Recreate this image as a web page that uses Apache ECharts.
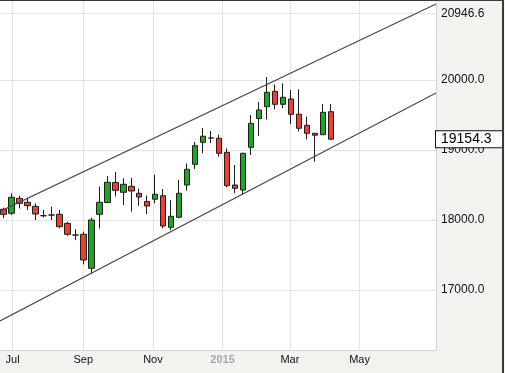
<!DOCTYPE html>
<html>
<head>
<meta charset="utf-8">
<script src="https://cdn.jsdelivr.net/npm/echarts@6/dist/echarts.min.js"></script>
<style>
  html, body { margin: 0; padding: 0; background: #f7f6f3; }
  #chart { width: 502px; height: 372px; border-top: 1px solid #3a3a3a; border-right: 2px solid #3a3a3a; }
</style>
</head>
<body>
<div id="chart"></div>
<script>
// Weekly candles (week starting dates)
const candleDates = [
  '2014-06-23','2014-06-30','2014-07-07','2014-07-14','2014-07-21','2014-07-28','2014-08-04','2014-08-11',
  '2014-08-18','2014-08-25','2014-09-01','2014-09-08','2014-09-15','2014-09-22','2014-09-29','2014-10-06',
  '2014-10-13','2014-10-20','2014-10-27','2014-11-03','2014-11-10','2014-11-17','2014-11-24','2014-12-01',
  '2014-12-08','2014-12-15','2014-12-22','2014-12-29','2015-01-05','2015-01-12','2015-01-19','2015-01-26',
  '2015-02-02','2015-02-09','2015-02-16','2015-02-23','2015-03-02','2015-03-09','2015-03-16','2015-03-23',
  '2015-03-30','2015-04-06'
];
const opens = [
  18152.9,18095.7,18310.0,18252.9,18195.7,18061.4,18071.4,18081.4,
  17952.9,17785.7,17795.7,17310.0,18081.4,18250.0,18535.7,18395.7,
  18481.4,18381.4,18264.3,18297.1,18347.1,17895.7,18038.6,18500.0,
  18795.7,19110.0,19171.4,19167.1,18967.1,18500.0,18428.6,19038.6,
  19450.0,19618.6,19838.6,19652.9,19728.6,19511.4,19352.9,19238.6,
  19218.6,19547.1
];
const closes = [
  18081.4,18324.3,18238.6,18204.3,18085.7,18061.4,18071.4,17904.3,
  17795.7,17785.7,17428.6,18000.0,18252.9,18538.6,18424.3,18510.0,
  18414.3,18328.6,18200.0,18367.1,17914.3,18052.9,18381.4,18724.3,
  19061.4,19197.1,19171.4,18952.9,18490.0,18452.9,18952.9,19381.4,
  19571.4,19824.3,19652.9,19752.9,19510.0,19310.0,19238.6,19211.4,
  19538.6,19154.3
];
const lows = [
  18024.3,18071.4,18167.1,18142.9,18000.0,18038.6,18000.0,17881.4,
  17775.7,17714.3,17367.1,17228.6,17878.6,18242.9,18335.7,18214.3,
  18118.6,18202.9,18085.7,18238.6,17881.4,17857.1,18024.3,18418.6,
  18728.6,18952.9,19100.0,18904.3,18467.1,18381.4,18357.1,18928.6,
  19200.0,19435.7,19581.4,19595.7,19368.6,19264.3,19150.0,18832.9,
  19214.3,19150.0
];
const highs = [
  18175.7,18381.4,18347.1,18318.6,18238.6,18142.9,18190.0,18142.9,
  17975.7,17867.1,17832.9,18032.9,18478.6,18628.6,18685.7,18595.7,
  18600.0,18447.1,18350.0,18647.1,18442.9,18285.7,18571.4,18807.1,
  19114.3,19314.3,19271.4,19221.4,19024.3,18785.7,18961.4,19500.0,
  19685.7,20042.9,19935.7,19952.9,19857.1,19867.1,19475.7,19242.9,
  19657.1,19657.1
];
// Channel lines: [start date, start value], [end date, end value]
const upperChannel = [['2014-06-20', 18121.4], ['2015-07-07', 21085.7]];
const lowerChannel = [['2014-06-20', 16557.1], ['2015-07-07', 19814.3]];
// Y tick labels and x month labels
const yTicks = [17000, 18000, 19000, 20000, 20946.6];
const xTickDates = ['2014-07-01', '2014-09-01', '2014-11-01', '2015-01-01', '2015-03-01', '2015-05-01'];
const monthNames = ['Jan','Feb','Mar','Apr','May','Jun','Jul','Aug','Sep','Oct','Nov','Dec'];

// Daily category axis
const axisStart = '2014-06-20', axisEnd = '2015-07-07';
const days = [];
{
  let t = Date.parse(axisStart + 'T00:00:00Z');
  const end = Date.parse(axisEnd + 'T00:00:00Z');
  while (t <= end) { days.push(new Date(t).toISOString().slice(0, 10)); t += 86400000; }
}
const tickFn = (idx, v) => xTickDates.indexOf(v) >= 0;

const rows = candleDates.map((d, i) => [d, opens[i], closes[i], lows[i], highs[i]]);
const lastClose = closes[closes.length - 1];

const chart = echarts.init(document.getElementById('chart'));
chart.setOption({
  animation: false,
  backgroundColor: '#f3f2ee',
  grid: { left: 0, top: 0, right: 66, bottom: 23, show: true, backgroundColor: '#ffffff', borderWidth: 0 },
  dataset: { source: rows, dimensions: ['date', 'open', 'close', 'low', 'high'] },
  xAxis: {
    type: 'category',
    data: days,
    boundaryGap: false,
    axisLine: { show: true, lineStyle: { color: '#d4d4d4' } },
    axisTick: { show: false },
    splitLine: { show: true, interval: tickFn, lineStyle: { color: '#e3e3e3', width: 1 } },
    axisLabel: {
      interval: tickFn,
      margin: 4,
      fontSize: 11,
      fontFamily: 'Liberation Sans, Arial, sans-serif',
      color: '#111',
      formatter: (v) => {
        const m = parseInt(v.slice(5, 7), 10);
        if (m === 1) return '{y|' + v.slice(0, 4) + '}';
        return monthNames[m - 1];
      },
      rich: { y: { color: '#a8a8a8', fontWeight: 'bold', fontSize: 11, fontFamily: 'Liberation Sans, Arial, sans-serif' } }
    }
  },
  yAxis: {
    type: 'value',
    position: 'right',
    min: 16142.9,
    max: 21128.6,
    scale: true,
    axisLine: { show: true, lineStyle: { color: '#d4d4d4' } },
    axisTick: { show: false, customValues: yTicks },
    splitLine: { show: true, lineStyle: { color: '#e3e3e3', width: 1 } },
    axisLabel: {
      customValues: yTicks,
      margin: 5,
      fontSize: 12,
      fontFamily: 'Liberation Sans, Arial, sans-serif',
      color: '#111',
      formatter: (v) => Number(v).toFixed(1)
    }
  },
  series: [
    {
      type: 'candlestick',
      encode: { x: 'date', y: ['open', 'close', 'low', 'high'] },
      barWidth: 6,
      itemStyle: {
        color: '#24a324', color0: '#e8412e',
        borderColor: '#1e1e1e', borderColor0: '#1e1e1e', borderColorDoji: '#1e1e1e',
        borderWidth: 1
      },
      markLine: {
        silent: true,
        symbol: 'none',
        lineStyle: { color: 'rgba(0,0,0,0)', width: 0, type: 'solid' },
        data: [{ yAxis: lastClose }],
        label: {
          show: true,
          position: 'end',
          distance: 0,
          formatter: (p) => Number(p.value).toFixed(1),
          fontSize: 14,
          fontFamily: 'Liberation Sans, Arial, sans-serif',
          color: '#000',
          backgroundColor: '#ffffff',
          borderColor: '#111',
          borderWidth: 1,
          padding: [1, 11, 1, 5]
        }
      }
    },
    {
      type: 'line', data: upperChannel, showSymbol: false, silent: true,
      lineStyle: { color: '#4a4a4a', width: 1.2 }
    },
    {
      type: 'line', data: lowerChannel, showSymbol: false, silent: true,
      lineStyle: { color: '#4a4a4a', width: 1.2 }
    }
  ]
});
</script>
</body>
</html>
